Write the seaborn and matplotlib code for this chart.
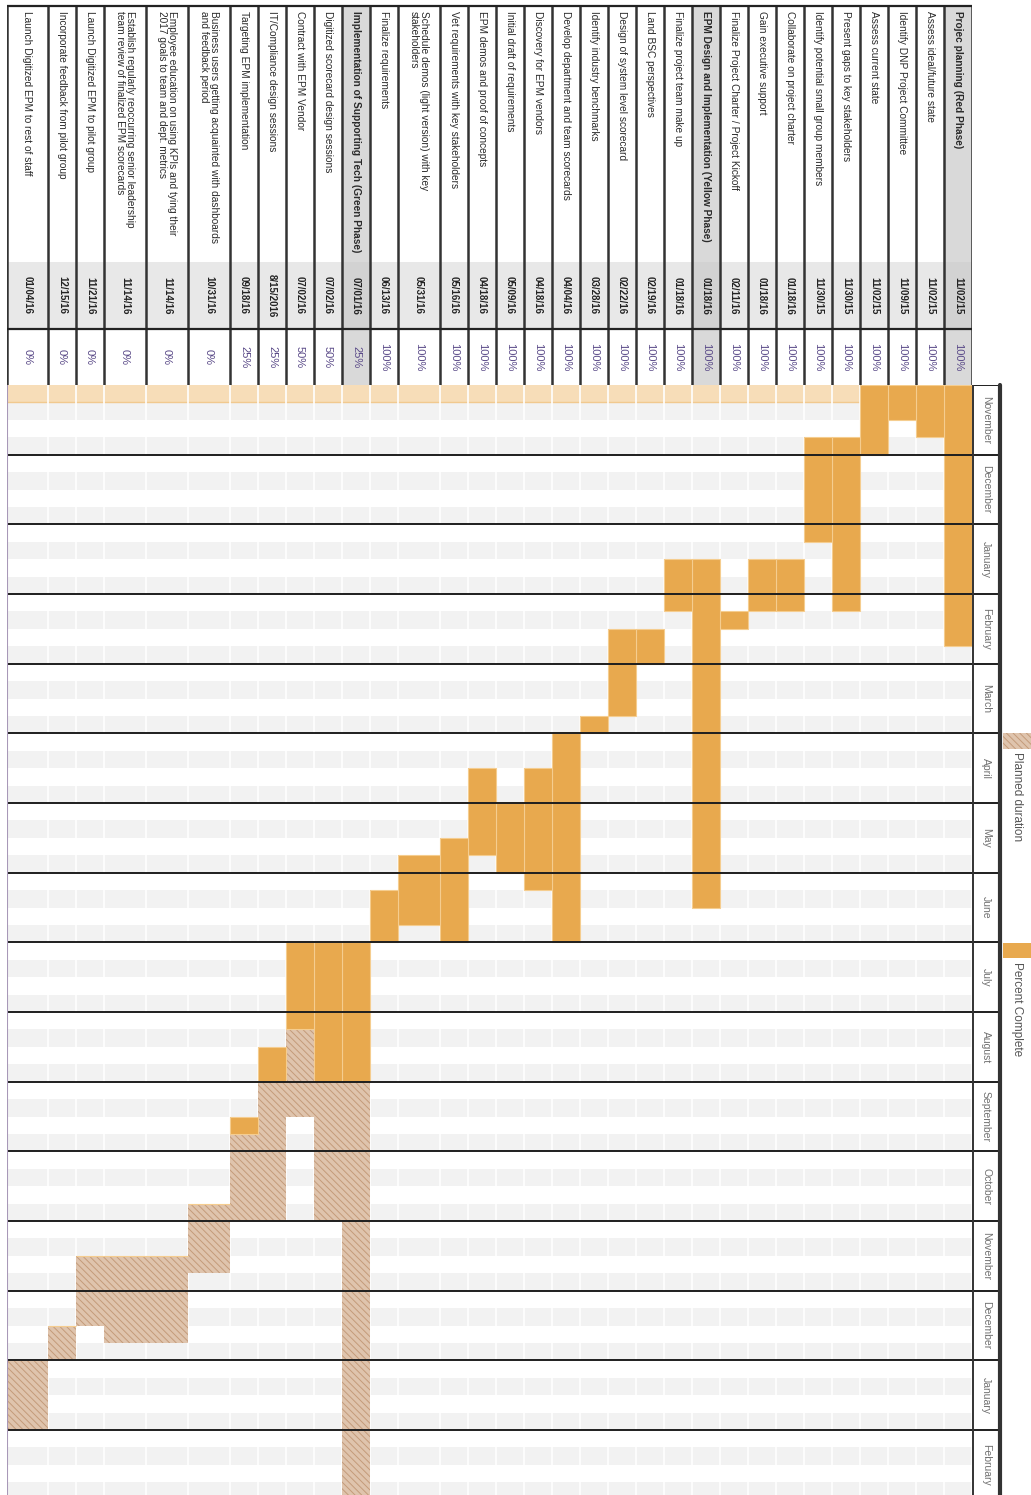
import matplotlib
matplotlib.use("Agg")
import matplotlib.pyplot as plt
from matplotlib.patches import Rectangle
import numpy as np
import seaborn as sns

# Estilo
sns.set_theme(style="white")
plt.rcParams['font.family'] = ['Liberation Sans', 'DejaVu Sans']
plt.rcParams['hatch.linewidth'] = 0.7

# Dados do cronograma (semanas contadas a partir do inicio de novembro/2015)
tasks = [
    "Projec planning (Red Phase)",
    "Assess ideal/future state",
    "Identify DNP Project Committee",
    "Assess current state",
    "Present gaps to key stakeholders",
    "Identify potential small group members",
    "Collaborate on project charter",
    "Gain executive support",
    "Finalize Project Charter / Project Kickoff",
    "EPM Design and Implementation (Yellow Phase)",
    "Finalize project team make up",
    "Land BSC perspectives",
    "Design of system level scorecard",
    "Identify industry benchmarks",
    "Develop department and team scorecards",
    "Discovery for EPM vendors",
    "Initial draft of requirements",
    "EPM demos and proof of concepts",
    "Vet requirements with key stakeholders",
    "Schedule demos (light version) with key\nstakeholders",
    "Finalize requirements",
    "Implementation of Supporting Tech (Green Phase)",
    "Digitized scorecard design sessions",
    "Contract with EPM Vendor",
    "IT/Compliance design sessions",
    "Targeting EPM implementation",
    "Business users getting acquainted with dashboards\nand feedback period",
    "Employee education on using KPIs and tying their\n2017 goals to team and dept. metrics",
    "Establish regularly reoccurring senior leadership\nteam review of finalized EPM scorecards",
    "Launch Digitized EPM to pilot group",
    "Incorporate feedback from pilot group",
    "Launch Digitized EPM to rest of staff",
]
start_dates = [
    "11/02/15", "11/02/15", "11/09/15", "11/02/15", "11/30/15", "11/30/15",
    "01/18/16", "01/18/16", "02/11/16", "01/18/16", "01/18/16", "02/19/16",
    "02/22/16", "03/28/16", "04/04/16", "04/18/16", "05/09/16", "04/18/16",
    "05/16/16", "05/31/16", "06/13/16", "07/01/16", "07/02/16", "07/02/16",
    "8/15/2016", "09/18/16", "10/31/16", "11/14/16", "11/14/16", "11/21/16",
    "12/15/16", "01/04/16",
]
percent_done = [100, 100, 100, 100, 100, 100, 100, 100, 100, 100, 100, 100,
                100, 100, 100, 100, 100, 100, 100, 100, 100, 25, 50, 50,
                25, 25, 0, 0, 0, 0, 0, 0]
plan_start = [0, 0, 0, 0, 3, 3, 10, 10, 13, 10, 10, 14, 14, 19, 20, 22,
              24, 22, 26, 27, 29, 32, 32, 32, 38, 42, 47, 50, 50, 50, 54, 56]
plan_end = [15, 3, 2, 4, 13, 9, 13, 13, 14, 30, 13, 16, 19, 20, 32, 29,
            28, 27, 32, 31, 32, 64, 48, 42, 48, 48, 51, 55, 55, 54, 56, 60]
phase_rows = [0, 9, 21]
months = ["November", "December", "January", "February", "March", "April",
          "May", "June", "July", "August", "September", "October",
          "November", "December", "January", "February"]

# Cores
ORANGE = "#e8a94e"
PLAN = "#dfc4ad"
PLAN_HATCH = "#c49b7a"
STRIPE = "#f2f2f2"
PEACH = "#f7ddb8"

W, H = 1031, 1495
fig = plt.figure(figsize=(W / 100, H / 100), dpi=100)

# Larguras das colunas (tarefas da direita para a esquerda)
n_lines = np.array([t.count("\n") + 1 for t in tasks])
widths = 28.0 + 14.0 * (n_lines - 1)
widths[-1] = 41.0
total_w = widths.sum()
right_edges = total_w - np.concatenate([[0], np.cumsum(widths)[:-1]])
centers = right_edges - widths / 2
left_px, body_top = 7, 385
week_px = 1045 / 60
n_weeks = (H - body_top) / week_px

# ---- Corpo do gantt ----
ax = fig.add_axes([left_px / W, 0, total_w / W, (H - body_top) / H])
for w in range(int(np.ceil(n_weeks))):
    if w == 0:
        ax.axhspan(w, w + 1, color=PEACH, lw=0, zorder=0)
        ax.axhline(w + 1, color="#f1c98f", lw=1, zorder=0.5)
    elif w % 4 in (1, 3):
        ax.axhspan(w, w + 1, color=STRIPE, lw=0, zorder=0)
for x in right_edges:
    ax.axvline(x, color="white", lw=1.2, zorder=1)

starts = np.array(plan_start)
durations = np.array(plan_end) - starts
done = np.floor(durations * np.array(percent_done) / 100)
ax.bar(centers, durations, bottom=starts, width=widths, facecolor=PLAN,
       edgecolor=PLAN_HATCH, hatch="\\\\\\\\\\", lw=0, zorder=2)
ax.bar(centers, done, bottom=starts, width=widths, color=ORANGE,
       edgecolor="#f5cd8f", lw=0.8, zorder=3)
for m in range(1, len(months)):
    ax.axhline(m * 4, color="#1e1e1e", lw=1.4, zorder=4)
ax.axvline(0, color="#a898b8", lw=1.5, zorder=4)
ax.set_xlim(0, total_w)
ax.set_ylim(n_weeks, 0)
ax.axis("off")

# ---- Coluna dos meses ----
axm = fig.add_axes([(left_px + total_w) / W, 0, 28 / W, (H - body_top) / H], sharey=ax)
axm.set_xlim(0, 1)
for i, m in enumerate(months):
    axm.text(0.5, i * 4 + 2, m, rotation=-90, ha="center", va="center",
             fontsize=7.5, color="#707070")
    axm.axhline(i * 4, color="#1e1e1e", lw=1.4)
axm.axvline(0.02, color="#333333", lw=1.4)
axm.axvline(1.0, color="#333333", lw=3, clip_on=False)
axm.axis("off")

# ---- Cabecalho da tabela ----
axh = fig.add_axes([left_px / W, (H - body_top) / H, total_w / W, body_top / H], sharex=ax)
axh.set_ylim(body_top, 0)
y_top, y_date, y_pct, y_bot = 6, 262, 329, 385
for i, t in enumerate(tasks):
    x0 = right_edges[i] - widths[i]
    phase = i in phase_rows
    axh.add_patch(Rectangle((x0, y_top), widths[i], y_date - y_top,
                            color="#d9d9d9" if phase else "white", lw=0))
    axh.add_patch(Rectangle((x0, y_date), widths[i], y_pct - y_date,
                            color="#d2d2d2" if phase else "#e8e8e8", lw=0))
    axh.add_patch(Rectangle((x0, y_pct), widths[i], y_bot - y_pct,
                            color="#d9d9d9" if phase else "white", lw=0))
    axh.text(centers[i], y_top + 5, t, rotation=-90, rotation_mode="anchor",
             ha="left", va="center", fontsize=7.3, color="#2a2a2a",
             fontweight="bold" if phase else "normal", linespacing=1.0)
    axh.text(centers[i], (y_date + y_pct) / 2, start_dates[i], rotation=-90,
             ha="center", va="center", fontsize=7, fontweight="bold", color="#222222")
    axh.text(centers[i], (y_pct + y_bot) / 2, f"{percent_done[i]}%", rotation=-90,
             ha="center", va="center", fontsize=8, color="#5a4a88")
for x in np.concatenate([right_edges, [0]]):
    axh.vlines(x, y_top, y_bot, color="#333333", lw=1.8)
axh.hlines([y_top, y_pct], 0, total_w, color="#222222", lw=1.6)
axh.axis("off")

# ---- Legenda ----
axl = fig.add_axes([0, 0, 1, 1], zorder=-1)
axl.set_xlim(0, W)
axl.set_ylim(H, 0)
axl.axis("off")
axl.add_patch(Rectangle((1003, 733), 28, 16, facecolor=PLAN, edgecolor=PLAN_HATCH,
                        hatch="\\\\\\\\\\", lw=0))
axl.text(1017, 752, "Planned duration", rotation=-90, rotation_mode="anchor",
         ha="left", va="center", fontsize=8.5, color="#555555")
axl.add_patch(Rectangle((1003, 943), 28, 15, color=ORANGE, lw=0))
axl.text(1017, 962, "Percent Complete", rotation=-90, rotation_mode="anchor",
         ha="left", va="center", fontsize=8.5, color="#555555")

fig.savefig("out.png", dpi=100)
